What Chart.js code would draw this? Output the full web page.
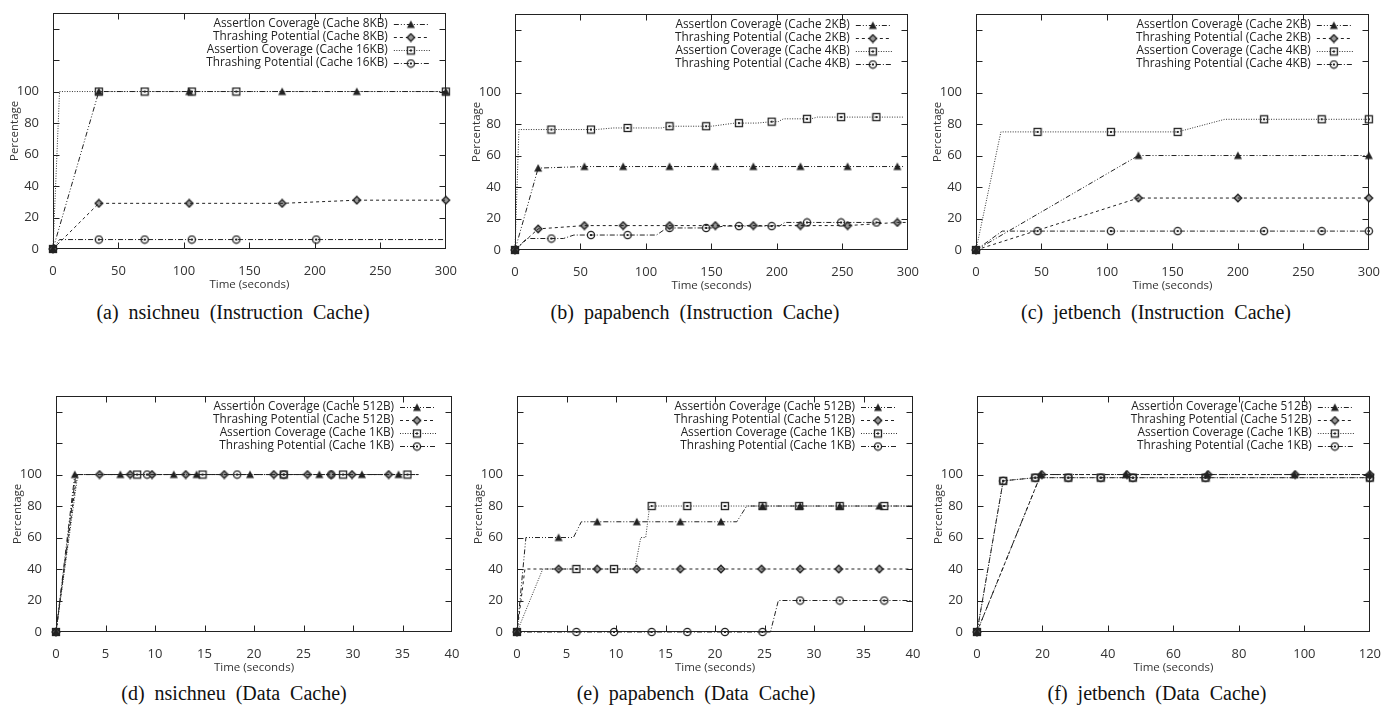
<!DOCTYPE html>
<html>
<head>
<meta charset="utf-8">
<script src="https://cdn.jsdelivr.net/npm/chart.js@4.4.1/dist/chart.umd.min.js"></script>
<style>
  html, body { margin: 0; padding: 0; background: #fff; }
  body { width: 1397px; height: 709px; position: relative; overflow: hidden; }
  canvas.panel { position: absolute; }
  .caption {
    position: absolute; width: 460px; text-align: center;
    font-family: "Liberation Serif", "Times New Roman", serif;
    font-size: 20px; line-height: 22px; color: #111; word-spacing: 5px;
  }
</style>
</head>
<body>
<canvas class="panel" id="ca" width="460" height="300" style="left:3px;top:-1px"></canvas>
<canvas class="panel" id="cb" width="460" height="300" style="left:465px;top:0px"></canvas>
<canvas class="panel" id="cc" width="460" height="300" style="left:926px;top:0px"></canvas>
<canvas class="panel" id="cd" width="460" height="300" style="left:6px;top:382px"></canvas>
<canvas class="panel" id="ce" width="460" height="300" style="left:467px;top:382px"></canvas>
<canvas class="panel" id="cf" width="460" height="300" style="left:927px;top:382px"></canvas>

<div class="caption" style="left:3px;top:301px">(a) nsichneu (Instruction Cache)</div>
<div class="caption" style="left:465px;top:301px">(b) papabench (Instruction Cache)</div>
<div class="caption" style="left:926px;top:301px">(c) jetbench (Instruction Cache)</div>
<div class="caption" style="left:4px;top:682px">(d) nsichneu (Data Cache)</div>
<div class="caption" style="left:466px;top:682px">(e) papabench (Data Cache)</div>
<div class="caption" style="left:927px;top:682px">(f) jetbench (Data Cache)</div>

<script>
// ---- data: [time, percentage] vertices of each line, and where gnuplot put its markers ----

// (a) nsichneu, instruction cache
const A_LABELS = ['Assertion Coverage (Cache 8KB)', 'Thrashing Potential (Cache 8KB)',
                  'Assertion Coverage (Cache 16KB)', 'Thrashing Potential (Cache 16KB)'];
const A_AC8_LINE = [[0,0],[35,100],[300,100]];
const A_AC8_MARKS = [[0,0],[35,100],[104,100],[175,100],[232,100],[300,100]];
const A_TP8_LINE = [[0,0],[35,29],[104,29],[175,29],[232,31],[300,31]];
const A_TP8_MARKS = [[0,0],[35,29],[104,29],[175,29],[232,31],[300,31]];
const A_AC16_LINE = [[0,0],[5,100],[300,100]];
const A_AC16_MARKS = [[0,0],[35,100],[70,100],[106,100],[140,100],[300,100]];
const A_TP16_LINE = [[0,0],[5,6],[300,6]];
const A_TP16_MARKS = [[0,0],[35,6],[70,6],[106,6],[140,6],[201,6]];

// (b) papabench, instruction cache
const B_LABELS = ['Assertion Coverage (Cache 2KB)', 'Thrashing Potential (Cache 2KB)',
                  'Assertion Coverage (Cache 4KB)', 'Thrashing Potential (Cache 4KB)'];
const B_AC2_LINE = [[0,0],[17.7,52],[53,53],[297,53]];
const B_AC2_MARKS = [[0,0],[17.7,52],[53,53],[82.6,53],[118,53],[153,53],[182,53],[218,53],[254,53],[292,53]];
const B_TP2_LINE = [[0,0],[17.7,13.4],[53,15.5],[254,15.5],[292,17.5],[300,17.5]];
const B_TP2_MARKS = [[0,0],[17.7,13.4],[53,15.5],[82.6,15.5],[118,15.5],[153,15.5],[182,15.5],[218,15.5],[254,15.5],[292,17.5]];
const B_AC4_LINE = [[0,0],[3,76.5],[62,76.5],[75,77.5],[112,77.5],[118,78.6],[150,78.6],[168,80.6],[185,80.6],
                    [196,81.5],[201,81.5],[205,83.3],[226,83.3],[231,84.4],[297,84.4]];
const B_AC4_MARKS = [[0,0],[27.8,76.5],[58,76.5],[86,77.5],[118,78.6],[146,78.6],[171,80.6],[196,81.5],[223,83.3],[249,84.4],[276,84.4]];
const B_TP4_LINE = [[0,0],[9,7.3],[37,7.3],[45,9.5],[108,9.5],[116,14],[150,14],[160,15.2],[202,15.2],[206,17.5],[280,17.5]];
const B_TP4_MARKS = [[0,0],[27.8,7.3],[58,9.5],[86,9.5],[118,14],[146,14],[171,15.2],[196,15.2],[223,17.5],[249,17.5],[276,17.5]];

// (c) jetbench, instruction cache
const C_LABELS = B_LABELS;
const C_AC2_LINE = [[0,0],[124,60],[300,60]];
const C_AC2_MARKS = [[0,0],[124,60],[200,60],[300,60]];
const C_TP2_LINE = [[0,0],[124,33],[300,33]];
const C_TP2_MARKS = [[0,0],[124,33],[200,33],[300,33]];
const C_AC4_LINE = [[0,0],[19,75],[154,75],[190,83],[300,83]];
const C_AC4_MARKS = [[0,0],[47,75],[103,75],[154,75],[220,83],[264,83],[300,83]];
const C_TP4_LINE = [[0,0],[20,12],[300,12]];
const C_TP4_MARKS = [[0,0],[47,12],[103,12],[154,12],[220,12],[264,12],[300,12]];

// (d) nsichneu, data cache
const D_LABELS = ['Assertion Coverage (Cache 512B)', 'Thrashing Potential (Cache 512B)',
                  'Assertion Coverage (Cache 1KB)', 'Thrashing Potential (Cache 1KB)'];
const D_AC512_LINE = [[0,0],[1.9,100],[36.6,100]];
const D_AC512_MARKS = [[0,0],[1.9,100],[6.5,100],[11.9,100],[14.2,100],[19.6,100],[26.6,100],[30.9,100],[34.6,100]];
const D_TP512_LINE = [[0,0],[2.1,100],[36.6,100]];
const D_TP512_MARKS = [[0,0],[4.4,100],[7.5,100],[9.7,100],[13.1,100],[17.0,100],[22.0,100],[25.4,100],[27.8,100],[29.9,100],[33.6,100]];
const D_AC1K_LINE = [[0,0],[2.2,100],[36.6,100]];
const D_AC1K_MARKS = [[0,0],[8.2,100],[14.8,100],[23.0,100],[29.0,100],[35.5,100]];
const D_TP1K_LINE = [[0,0],[2.0,100],[36.6,100]];
const D_TP1K_MARKS = [[0,0],[9.2,100],[18.3,100],[23.0,100],[27.8,100]];

// (e) papabench, data cache
const E_LABELS = D_LABELS;
const E_AC512_LINE = [[0,0],[0.9,60],[5.7,60],[6.5,70],[22.2,70],[23.2,80],[40,80]];
const E_AC512_MARKS = [[0,0],[4.2,60],[8.1,70],[12.1,70],[16.5,70],[20.6,70],[24.8,80],[28.6,80],[32.6,80],[36.6,80]];
const E_TP512_LINE = [[0,0],[0.8,40],[40,40]];
const E_TP512_MARKS = [[0,0],[4.2,40],[8.1,40],[12.1,40],[16.5,40],[20.6,40],[24.7,40],[28.6,40],[32.5,40],[36.6,40]];
const E_AC1K_LINE = [[0,0],[2.6,40],[11.9,40],[12.5,60],[13.0,60],[13.4,80],[40,80]];
const E_AC1K_MARKS = [[0,0],[6.0,40],[9.8,40],[13.6,80],[17.2,80],[21.0,80],[24.8,80],[28.5,80],[32.6,80],[37.1,80]];
const E_TP1K_LINE = [[0,0],[25.6,0],[26.4,20],[40,20]];
const E_TP1K_MARKS = [[0,0],[6.0,0],[9.8,0],[13.6,0],[17.2,0],[21.0,0],[24.8,0],[28.6,20],[32.6,20],[37.1,20]];

// (f) jetbench, data cache
const F_LABELS = D_LABELS;
const F_AC512_LINE = [[0,0],[19.5,100],[120,100]];
const F_AC512_MARKS = [[0,0],[19.5,100],[45.5,100],[70.3,100],[97,100],[120,100]];
const F_TP512_LINE = [[0,0],[19.5,100],[120,100]];
const F_TP512_MARKS = [[0,0],[19.8,100],[45.8,100],[70.6,100],[97.2,100],[120,100]];
const F_AC1K_LINE = [[0,0],[8,96],[17.8,98],[120,98]];
const F_AC1K_MARKS = [[0,0],[8,96],[17.8,98],[27.9,98],[37.8,98],[47.6,98],[69.8,98],[120,98]];
const F_TP1K_LINE = [[0,0],[8,96],[17.8,98],[120,98]];
const F_TP1K_MARKS = [[0,0],[8,96],[17.8,98],[27.9,98],[37.8,98],[47.6,98],[69.8,98],[120,98]];

// y axis is the same everywhere, x axis differs per panel
const Y_MAX = 150, Y_STEP = 20, Y_LABEL_LIMIT = 100;

const INK = '#222';
const FONT = "'Open Sans', 'Liberation Sans', sans-serif";

// gnuplot-ish point types drawn once into little canvases
function makeMarker(kind) {
    const c = document.createElement('canvas');
    c.width = 10; c.height = 10;
    const g = c.getContext('2d');
    g.strokeStyle = INK; g.fillStyle = INK; g.lineWidth = 1.3;
    if (kind === 'tri') {
        g.beginPath(); g.moveTo(5, 1); g.lineTo(9, 8.4); g.lineTo(1, 8.4); g.closePath(); g.fill();
    } else if (kind === 'dia') {
        g.beginPath(); g.moveTo(5, 1.2); g.lineTo(8.8, 5); g.lineTo(5, 8.8); g.lineTo(1.2, 5); g.closePath();
        g.fillStyle = '#999'; g.fill(); g.stroke();
    } else if (kind === 'sq') {
        g.strokeRect(1.5, 1.5, 7, 7);
        g.fillRect(4, 4, 2, 2);
    } else {
        g.beginPath(); g.arc(5, 5, 3.6, 0, Math.PI * 2); g.stroke();
        g.fillRect(4, 4, 2, 2);
    }
    return c;
}

const STYLES = [
    { dash: [5, 2, 1, 2, 1, 2], marker: makeMarker('tri'), color: INK },
    { dash: [3, 3], marker: makeMarker('dia'), color: INK },
    { dash: [1, 1.5], marker: makeMarker('sq'), color: '#333' },
    { dash: [5, 2, 1, 2], marker: makeMarker('circ'), color: INK }
];

const toXY = arr => arr.map(([x, y]) => ({ x, y }));

// frame with inward mirrored ticks, like gnuplot's border
const framePlugin = {
    id: 'frame',
    beforeDatasetsDraw(chart) {
        const { ctx, chartArea: a, scales } = chart;
        const L = Math.round(a.left) + 0.5, R = Math.round(a.right) - 0.5;
        const T = Math.round(a.top) + 0.5, B = Math.round(a.bottom) - 0.5;
        const len = 6;
        ctx.save();
        ctx.strokeStyle = INK;
        ctx.lineWidth = 1;
        ctx.beginPath();
        scales.y.ticks.forEach(t => {
            const py = Math.round(scales.y.getPixelForValue(t.value)) + 0.5;
            if (py >= B - 1 || py <= T + 1) return;
            ctx.moveTo(L, py); ctx.lineTo(L + len, py);
            ctx.moveTo(R, py); ctx.lineTo(R - len, py);
        });
        scales.x.ticks.forEach(t => {
            const px = Math.round(scales.x.getPixelForValue(t.value)) + 0.5;
            if (px <= L + 1 || px >= R - 1) return;
            ctx.moveTo(px, B); ctx.lineTo(px, B - len);
            ctx.moveTo(px, T); ctx.lineTo(px, T + len);
        });
        ctx.stroke();
        ctx.strokeRect(L, T, R - L, B - T);
        ctx.restore();
    }
};

// key in the top-right corner of the plot, text right-aligned, sample to its right
const keyPlugin = {
    id: 'key',
    afterDatasetsDraw(chart, args, opts) {
        const { ctx, chartArea: a } = chart;
        ctx.save();
        ctx.font = `11.8px ${FONT}`;
        ctx.fillStyle = INK;
        ctx.textAlign = 'right';
        ctx.textBaseline = 'middle';
        opts.labels.forEach((label, i) => {
            const st = STYLES[i];
            const y = a.top + 11 + 13 * i;
            ctx.fillText(label, a.right - 58, y);
            ctx.strokeStyle = st.color;
            ctx.lineWidth = 1;
            ctx.setLineDash(st.dash);
            ctx.beginPath();
            ctx.moveTo(a.right - 52, Math.round(y) + 0.5);
            ctx.lineTo(a.right - 16, Math.round(y) + 0.5);
            ctx.stroke();
            ctx.setLineDash([]);
            ctx.drawImage(st.marker, a.right - 35 - 5, Math.round(y) - 5 + 0.5);
        });
        ctx.restore();
    }
};

function makePanel(id, labels, series, xMax, xStep) {
    const datasets = [];
    series.forEach(([line, marks], i) => {
        const st = STYLES[i];
        datasets.push({
            data: toXY(line), showLine: true, pointRadius: 0, borderColor: st.color,
            borderWidth: 1, borderDash: st.dash, fill: false, clip: false
        });
        datasets.push({
            data: toXY(marks), showLine: false, pointRadius: 4, pointStyle: st.marker, clip: false
        });
    });

    return new Chart(document.getElementById(id), {
        type: 'scatter',
        data: { datasets },
        options: {
            responsive: false,
            animation: false,
            events: [],
            layout: { padding: { left: 0, right: 14, top: 10, bottom: 0 } },
            plugins: { legend: { display: false }, tooltip: { enabled: false }, key: { labels } },
            scales: {
                x: {
                    type: 'linear', min: 0, max: xMax,
                    grid: { display: false }, border: { display: false },
                    ticks: { stepSize: xStep, padding: 6, color: '#333', maxRotation: 0, autoSkip: false,
                             font: { family: FONT, size: 13 } },
                    title: { display: true, text: 'Time (seconds)', color: '#333',
                             font: { family: FONT, size: 11.5 }, padding: { top: 0, bottom: 7 } },
                    afterFit(s) { s.height = 50; }
                },
                y: {
                    type: 'linear', min: 0, max: Y_MAX,
                    grid: { display: false }, border: { display: false },
                    ticks: { stepSize: Y_STEP, includeBounds: false, padding: 6, color: '#333',
                             font: { family: FONT, size: 13 },
                             callback: v => (v <= Y_LABEL_LIMIT ? v : '') },
                    title: { display: true, text: 'Percentage', color: '#333',
                             font: { family: FONT, size: 11.5 }, padding: { top: 5, bottom: 0 } },
                    afterFit(s) { s.width = 50; }
                }
            }
        },
        plugins: [framePlugin, keyPlugin]
    });
}

makePanel('ca', A_LABELS, [[A_AC8_LINE, A_AC8_MARKS], [A_TP8_LINE, A_TP8_MARKS],
                           [A_AC16_LINE, A_AC16_MARKS], [A_TP16_LINE, A_TP16_MARKS]], 300, 50);
makePanel('cb', B_LABELS, [[B_AC2_LINE, B_AC2_MARKS], [B_TP2_LINE, B_TP2_MARKS],
                           [B_AC4_LINE, B_AC4_MARKS], [B_TP4_LINE, B_TP4_MARKS]], 300, 50);
makePanel('cc', C_LABELS, [[C_AC2_LINE, C_AC2_MARKS], [C_TP2_LINE, C_TP2_MARKS],
                           [C_AC4_LINE, C_AC4_MARKS], [C_TP4_LINE, C_TP4_MARKS]], 300, 50);
makePanel('cd', D_LABELS, [[D_AC512_LINE, D_AC512_MARKS], [D_TP512_LINE, D_TP512_MARKS],
                           [D_AC1K_LINE, D_AC1K_MARKS], [D_TP1K_LINE, D_TP1K_MARKS]], 40, 5);
makePanel('ce', E_LABELS, [[E_AC512_LINE, E_AC512_MARKS], [E_TP512_LINE, E_TP512_MARKS],
                           [E_AC1K_LINE, E_AC1K_MARKS], [E_TP1K_LINE, E_TP1K_MARKS]], 40, 5);
makePanel('cf', F_LABELS, [[F_AC512_LINE, F_AC512_MARKS], [F_TP512_LINE, F_TP512_MARKS],
                           [F_AC1K_LINE, F_AC1K_MARKS], [F_TP1K_LINE, F_TP1K_MARKS]], 120, 20);
</script>
</body>
</html>
